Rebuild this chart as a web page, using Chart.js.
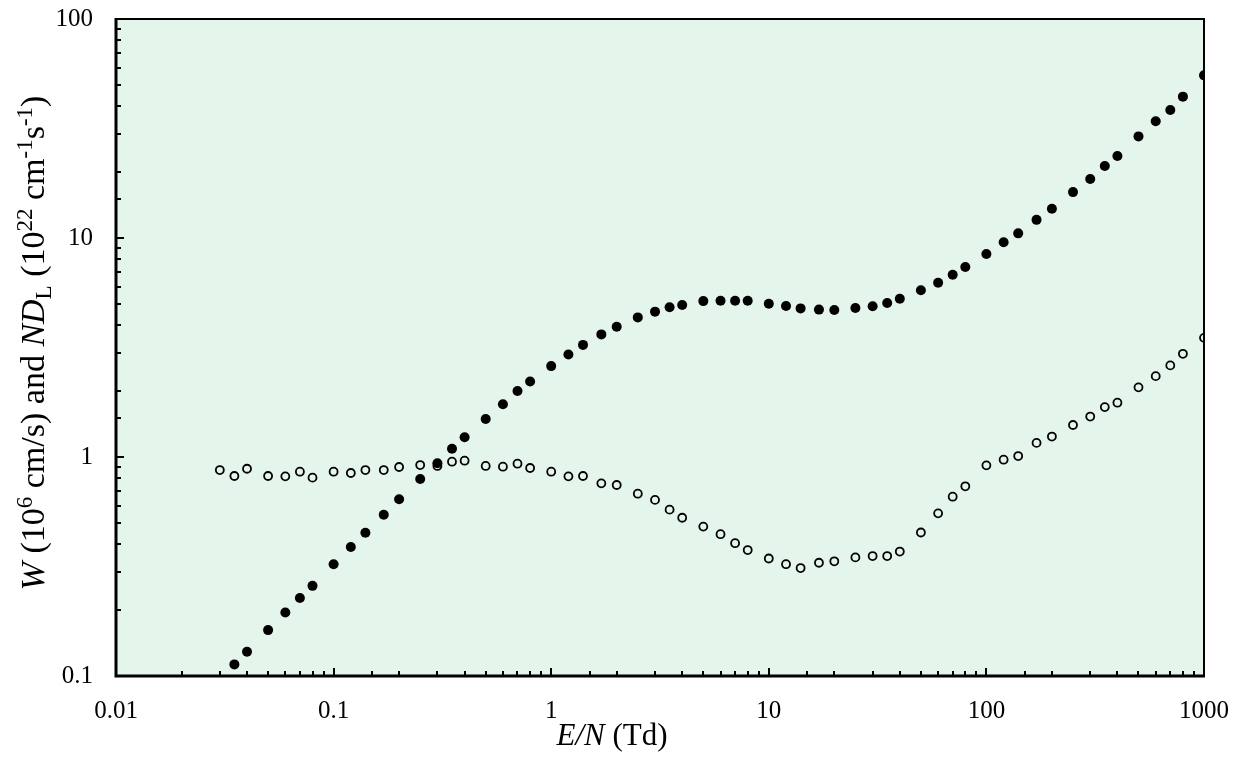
<!DOCTYPE html>
<html>
<head>
<meta charset="utf-8">
<script src="https://cdn.jsdelivr.net/npm/chart.js@4.4.1/dist/chart.umd.min.js"></script>
<style>
  html, body { margin: 0; padding: 0; background: #fff; }
  #wrap { width: 1236px; height: 759px; position: relative; }
</style>
</head>
<body>
<div id="wrap"><canvas id="chart"></canvas></div>
<script>
// E/N values (Td)
const fieldW = [0.035, 0.04, 0.05, 0.06, 0.07, 0.08, 0.1, 0.12, 0.14, 0.17, 0.2, 0.25, 0.3, 0.35, 0.4,
  0.5, 0.6, 0.7, 0.8, 1, 1.2, 1.4, 1.7, 2, 2.5, 3, 3.5, 4, 5, 6, 7, 8, 10, 12, 14, 17, 20, 25, 30, 35, 40,
  50, 60, 70, 80, 100, 120, 140, 170, 200, 250, 300, 350, 400, 500, 600, 700, 800, 1000];
// drift velocity W (10^6 cm/s)
const driftW = [0.113, 0.129, 0.162, 0.195, 0.227, 0.258, 0.324, 0.388, 0.451, 0.545, 0.641, 0.793, 0.936, 1.09, 1.23,
  1.49, 1.74, 2.0, 2.21, 2.6, 2.94, 3.25, 3.63, 3.93, 4.34, 4.61, 4.83, 4.94, 5.15, 5.17, 5.17, 5.17, 5.01, 4.89, 4.77, 4.71, 4.69, 4.79, 4.88, 5.05, 5.28,
  5.77, 6.25, 6.8, 7.37, 8.45, 9.56, 10.5, 12.1, 13.6, 16.2, 18.6, 21.3, 23.7, 29.1, 34.1, 38.4, 44.2, 55.3];

const fieldD = [0.03, 0.035, 0.04, 0.05, 0.06, 0.07, 0.08, 0.1, 0.12, 0.14, 0.17, 0.2, 0.25, 0.3, 0.35, 0.4,
  0.5, 0.6, 0.7, 0.8, 1, 1.2, 1.4, 1.7, 2, 2.5, 3, 3.5, 4, 5, 6, 7, 8, 10, 12, 14, 17, 20, 25, 30, 35, 40,
  50, 60, 70, 80, 100, 120, 140, 170, 200, 250, 300, 350, 400, 500, 600, 700, 800, 1000];
// longitudinal diffusion ND_L (10^22 cm^-1 s^-1)
const diffL = [0.872, 0.819, 0.884, 0.819, 0.816, 0.857, 0.805, 0.857, 0.845, 0.872, 0.872, 0.9, 0.919, 0.91, 0.952, 0.962,
  0.91, 0.903, 0.932, 0.891, 0.857, 0.816, 0.819, 0.758, 0.745, 0.68, 0.637, 0.575, 0.528, 0.481, 0.444, 0.404, 0.376, 0.344, 0.324, 0.311, 0.329, 0.334, 0.348, 0.353, 0.353, 0.37,
  0.452, 0.553, 0.659, 0.735, 0.916, 0.972, 1.01, 1.16, 1.24, 1.4, 1.53, 1.69, 1.77, 2.08, 2.34, 2.62, 2.96, 3.5];

const xTickLabels = ['0.01', '0.1', '1', '10', '100', '1000'];
const yTickLabels = ['0.1', '1', '10', '100'];

const plotBg = 'rgb(228,245,236)';
const serif = "'Liberation Serif', 'Times New Roman', serif";

function toPoints(xs, ys) {
  return xs.map((x, i) => ({ x: x, y: ys[i] }));
}

function isDecade(v) {
  const l = Math.log10(v);
  return Math.abs(l - Math.round(l)) < 1e-9;
}

function decadeLabel(v, list) {
  if (!isDecade(v)) return '';
  const s = list.find(t => Math.abs(parseFloat(t) - v) < 1e-9 * Math.max(1, v));
  return s || '';
}

// text runs: { t, it (italic), s ('sup' | 'sub') }
function runFont(r, size) {
  const sz = r.s ? Math.round(size * 0.68) : size;
  return (r.it ? 'italic ' : '') + sz + 'px ' + serif;
}
function drawRuns(ctx, runs, cx, baseY, size) {
  let total = 0;
  runs.forEach(r => { ctx.font = runFont(r, size); total += ctx.measureText(r.t).width; });
  let x = cx - total / 2;
  ctx.textAlign = 'left';
  ctx.textBaseline = 'alphabetic';
  runs.forEach(r => {
    ctx.font = runFont(r, size);
    let dy = 0;
    if (r.s === 'sup') dy = -size * 0.36;
    if (r.s === 'sub') dy = size * 0.2;
    ctx.fillText(r.t, x, baseY + dy);
    x += ctx.measureText(r.t).width;
  });
}

const xTitle = [{ t: 'E/N', it: true }, { t: ' (Td)' }];
const yTitle = [
  { t: 'W', it: true }, { t: ' (10' }, { t: '6', s: 'sup' }, { t: ' cm/s) and ' },
  { t: 'ND', it: true }, { t: 'L', s: 'sub' }, { t: ' (10' }, { t: '22', s: 'sup' },
  { t: ' cm' }, { t: '-1', s: 'sup' }, { t: 's' }, { t: '-1', s: 'sup' }, { t: ')' }
];

const framePlugin = {
  id: 'frame',
  beforeDraw(chart) {
    const { ctx, chartArea: a } = chart;
    ctx.save();
    ctx.fillStyle = plotBg;
    ctx.fillRect(a.left, a.top, a.right - a.left, a.bottom - a.top);
    ctx.restore();
  },
  afterDatasetsDraw(chart) {
    const { ctx, chartArea: a, scales } = chart;
    ctx.save();
    ctx.strokeStyle = '#000';
    ctx.lineCap = 'butt';
    // inward ticks on bottom and left
    ctx.lineWidth = 2;
    scales.x.ticks.forEach(tk => {
      const px = Math.round(scales.x.getPixelForValue(tk.value));
      const len = isDecade(tk.value) ? 8 : 5;
      ctx.beginPath();
      ctx.moveTo(px, a.bottom);
      ctx.lineTo(px, a.bottom - len);
      ctx.stroke();
    });
    scales.y.ticks.forEach(tk => {
      const py = Math.round(scales.y.getPixelForValue(tk.value));
      const len = isDecade(tk.value) ? 8 : 5;
      ctx.beginPath();
      ctx.moveTo(a.left, py);
      ctx.lineTo(a.left + len, py);
      ctx.stroke();
    });
    // frame: heavier left/bottom
    ctx.lineWidth = 2;
    ctx.beginPath();
    ctx.moveTo(a.left, a.top);
    ctx.lineTo(a.right, a.top);
    ctx.lineTo(a.right, a.bottom);
    ctx.stroke();
    ctx.lineWidth = 3;
    ctx.beginPath();
    ctx.moveTo(a.left, a.top - 1);
    ctx.lineTo(a.left, a.bottom);
    ctx.lineTo(a.right + 1, a.bottom);
    ctx.stroke();
    ctx.restore();
  },
  afterDraw(chart) {
    const { ctx } = chart;
    ctx.save();
    ctx.fillStyle = '#000';
    drawRuns(ctx, xTitle, 612, 745, 31);
    ctx.translate(44, 343);
    ctx.rotate(-Math.PI / 2);
    drawRuns(ctx, yTitle, 0, 0, 34);
    ctx.restore();
  }
};

function build() {
  new Chart(document.getElementById('chart'), {
    type: 'scatter',
    data: {
      datasets: [
        {
          label: 'W',
          data: toPoints(fieldW, driftW),
          pointStyle: 'circle',
          pointRadius: 5,
          pointBackgroundColor: '#000',
          pointBorderColor: '#000',
          pointBorderWidth: 0,
          order: 0
        },
        {
          label: 'ND_L',
          data: toPoints(fieldD, diffL),
          pointStyle: 'circle',
          pointRadius: 4,
          pointBackgroundColor: plotBg,
          pointBorderColor: '#000',
          pointBorderWidth: 1.8,
          order: 1
        }
      ]
    },
    options: {
      responsive: true,
      maintainAspectRatio: false,
      animation: false,
      events: [],
      layout: { padding: { top: 19, right: 32, left: 0, bottom: 0 } },
      plugins: {
        legend: { display: false },
        tooltip: { enabled: false },
        title: { display: false }
      },
      scales: {
        x: {
          type: 'logarithmic',
          min: 0.01,
          max: 1000,
          grid: { display: false, drawTicks: false },
          border: { display: false },
          afterFit(scale) {
            scale.height = 83;
            scale.paddingLeft = 0;
            scale.paddingRight = 0;
          },
          ticks: {
            autoSkip: false,
            maxRotation: 0,
            padding: 20,
            color: '#000',
            font: { family: serif, size: 25 },
            callback: (v) => decadeLabel(v, xTickLabels)
          }
        },
        y: {
          type: 'logarithmic',
          min: 0.1,
          max: 100,
          grid: { display: false, drawTicks: false },
          border: { display: false },
          afterFit(scale) {
            scale.width = 116;
            scale.paddingTop = 0;
            scale.paddingBottom = 0;
          },
          ticks: {
            autoSkip: false,
            padding: 23,
            color: '#000',
            font: { family: serif, size: 25 },
            callback: (v) => decadeLabel(v, yTickLabels)
          }
        }
      }
    },
    plugins: [framePlugin]
  });
}

Promise.all([
  document.fonts.load("25px 'Liberation Serif'"),
  document.fonts.load("italic 31px 'Liberation Serif'")
]).catch(() => {}).then(build);
</script>
</body>
</html>
